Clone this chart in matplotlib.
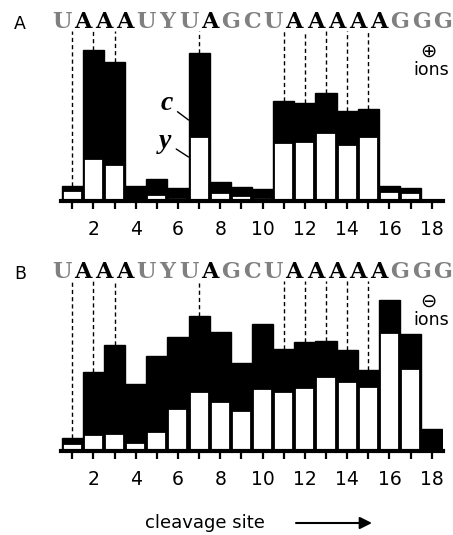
import matplotlib
matplotlib.use('Agg')
import matplotlib.pyplot as plt
import numpy as np

# cleavage sites and RNA sequence
sites = list(range(1, 19))
seq = list('UAAAUYUAGCUAAAAAGGG')
seq_hi = [0, 1, 1, 1, 0, 0, 0, 1, 0, 0, 0, 1, 1, 1, 1, 1, 0, 0, 0]
cut_sites = [1, 2, 3, 7, 11, 12, 13, 14, 15]

# A: positive ions (y fragments, c fragments)
y_pos = [10, 42, 36, 1, 6, 3, 64, 8, 5, 3, 58, 59, 68, 56, 64, 9, 8, 0]
c_pos = [5, 109, 103, 14, 16, 10, 84, 11, 9, 9, 42, 39, 40, 34, 28, 6, 5, 0]

# B: negative ions
y_neg = [7, 16, 17, 8, 19, 42, 59, 49, 40, 62, 59, 63, 74, 69, 64, 118, 82, 0]
c_neg = [6, 63, 89, 59, 76, 72, 76, 70, 48, 65, 43, 46, 36, 32, 17, 33, 35, 22]

W, H = 453, 535
fig = plt.figure(figsize=(W / 100, H / 100), dpi=100)


def panel(ax, y_ions, c_ions):
    total = np.add(y_ions, c_ions)
    ax.bar(sites, total, width=1.0, color='black', edgecolor='black', linewidth=1, zorder=2)
    ax.bar(sites, y_ions, width=0.9, color='white', edgecolor='black', linewidth=1.3, zorder=3)
    tops = [total[s - 1] for s in cut_sites]
    ax.vlines(cut_sites, tops, 170, colors='black', linestyles=(0, (3, 2.2)), linewidth=1.0, zorder=1)
    for i, (ch, hi) in enumerate(zip(seq, seq_hi)):
        ax.text(i + 0.5, 179, ch, ha='center', va='center', fontsize=16, fontweight='bold',
                family='DejaVu Serif', color='black' if hi else '#808080', clip_on=False)
    ax.set_xlim(0.48, 18.55)
    ax.set_ylim(0, 191)
    ax.set_xticks(sites)
    ax.set_xticklabels([str(s) if s % 2 == 0 else '' for s in sites])
    ax.tick_params(axis='x', length=5.5, width=1.6, pad=8, labelsize=13.5)
    ax.set_yticks([])
    for sp in ['left', 'right', 'top']:
        ax.spines[sp].set_visible(False)
    ax.spines['bottom'].set_linewidth(3)
    ax.spines['bottom'].set_zorder(5)
    ax.patch.set_visible(False)


axA = fig.add_axes([61.2 / W, 1 - 201 / H, 382.2 / W, 191 / H])
panel(axA, y_pos, c_pos)
axB = fig.add_axes([61.2 / W, 1 - 451 / H, 382.2 / W, 191 / H])
panel(axB, y_neg, c_neg)

# c / y labels
axA.annotate('c', xy=(6.5, 81), xytext=(-16, 12), textcoords='offset points',
             ha='center', va='center', fontsize=20, fontweight='bold', fontstyle='italic',
             family='Liberation Serif',
             arrowprops=dict(arrowstyle='-', lw=1.0, color='black', shrinkA=2, shrinkB=0))
axA.annotate('y', xy=(6.5, 44), xytext=(-17, 11), textcoords='offset points',
             ha='center', va='center', fontsize=20, fontweight='bold', fontstyle='italic',
             family='Liberation Serif',
             arrowprops=dict(arrowstyle='-', lw=1.0, color='black', shrinkA=2, shrinkB=0))

# panel letters and ion polarity
fig.text(20 / W, 1 - 24 / H, 'A', ha='center', va='center', fontsize=12.5)
fig.text(20 / W, 1 - 274 / H, 'B', ha='center', va='center', fontsize=12.5)
fig.text(428 / W, 1 - 51 / H, '\u2295', ha='center', va='center', fontsize=14)
fig.text(431 / W, 1 - 70 / H, 'ions', ha='center', va='center', fontsize=12.5)
fig.text(428 / W, 1 - 301 / H, '\u2296', ha='center', va='center', fontsize=14)
fig.text(431 / W, 1 - 320 / H, 'ions', ha='center', va='center', fontsize=12.5)

# x axis caption with arrow
fig.text(205 / W, 1 - 523 / H, 'cleavage site', ha='center', va='center', fontsize=13)
axB.annotate('', xy=(372 / W, 1 - 523 / H), xytext=(296 / W, 1 - 523 / H),
             xycoords='figure fraction', textcoords='figure fraction', annotation_clip=False,
             arrowprops=dict(arrowstyle='-|>', lw=1.5, color='black', mutation_scale=18,
                             shrinkA=0, shrinkB=0))

fig.savefig('out.png', dpi=100)
